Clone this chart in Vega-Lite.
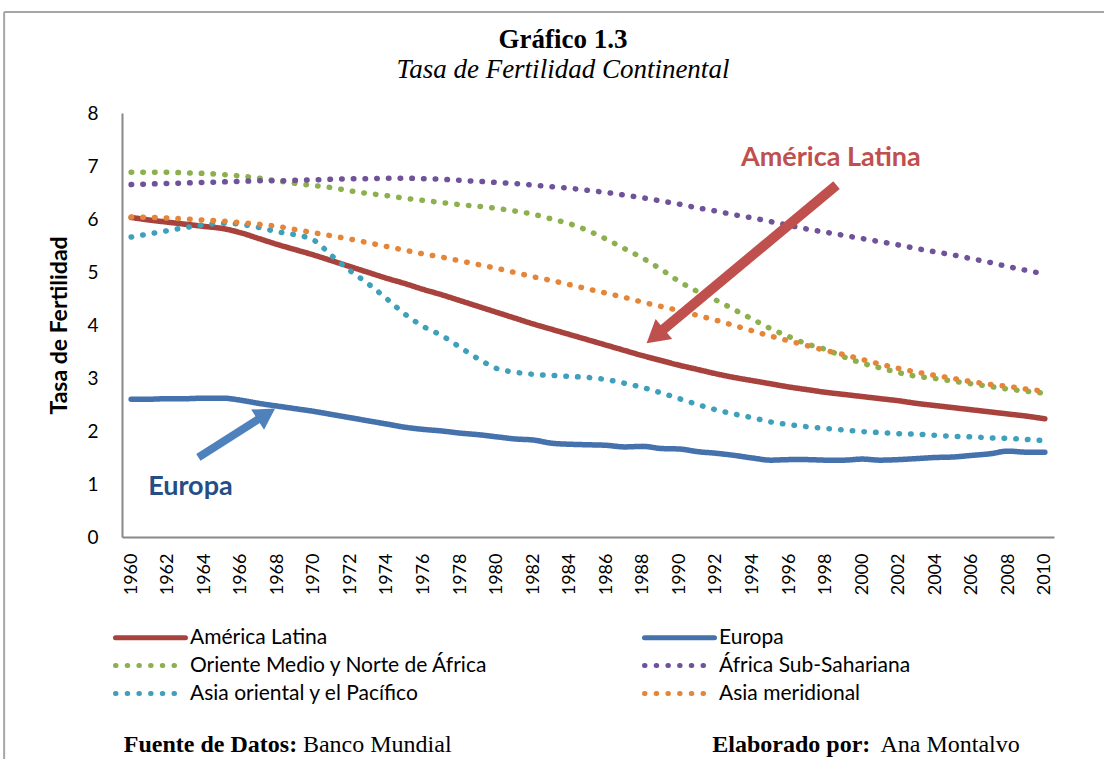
{
  "$schema": "https://vega.github.io/schema/vega-lite/v6.json",
  "width": 932,
  "height": 424,
  "autosize": {"type": "none"},
  "padding": {"left": 122, "top": 113, "right": 50, "bottom": 222},
  "background": "white",
  "config": {
    "view": {"stroke": null},
    "axis": {"grid": false, "ticks": false, "domainColor": "#888888", "domainWidth": 2, "labelFont": "Lato", "labelColor": "black", "titleFont": "Lato", "titleColor": "black"},
    "axisX": {"labelOverlap": false, "labelFontSize": 18, "labelPadding": 16, "labelAngle": -90},
    "axisY": {"labelFontSize": 19, "labelPadding": 24, "titleFontSize": 23, "titleFontWeight": "bold", "titlePadding": 15}
  },
  "title": {
    "text": "Gráfico 1.3",
    "subtitle": "Tasa de Fertilidad Continental",
    "font": "Liberation Serif",
    "fontSize": 27,
    "fontWeight": "bold",
    "color": "black",
    "subtitleFont": "Liberation Serif",
    "subtitleFontSize": 27,
    "subtitleFontStyle": "italic",
    "subtitleColor": "black",
    "subtitlePadding": 3,
    "anchor": "middle",
    "frame": "group",
    "dx": -25,
    "offset": -73
  },
  "datasets": {
    "fert": [
      {"year":1960,"region":"América Latina","rate":6.03},{"year":1961,"region":"América Latina","rate":5.98},{"year":1962,"region":"América Latina","rate":5.94},{"year":1963,"region":"América Latina","rate":5.90},{"year":1964,"region":"América Latina","rate":5.86},{"year":1965,"region":"América Latina","rate":5.82},{"year":1966,"region":"América Latina","rate":5.74},{"year":1967,"region":"América Latina","rate":5.63},{"year":1968,"region":"América Latina","rate":5.52},{"year":1969,"region":"América Latina","rate":5.42},{"year":1970,"region":"América Latina","rate":5.32},{"year":1971,"region":"América Latina","rate":5.21},{"year":1972,"region":"América Latina","rate":5.10},{"year":1973,"region":"América Latina","rate":4.99},{"year":1974,"region":"América Latina","rate":4.88},{"year":1975,"region":"América Latina","rate":4.78},{"year":1976,"region":"América Latina","rate":4.67},{"year":1977,"region":"América Latina","rate":4.57},{"year":1978,"region":"América Latina","rate":4.46},{"year":1979,"region":"América Latina","rate":4.35},{"year":1980,"region":"América Latina","rate":4.24},{"year":1981,"region":"América Latina","rate":4.13},{"year":1982,"region":"América Latina","rate":4.02},{"year":1983,"region":"América Latina","rate":3.92},{"year":1984,"region":"América Latina","rate":3.82},{"year":1985,"region":"América Latina","rate":3.72},{"year":1986,"region":"América Latina","rate":3.62},{"year":1987,"region":"América Latina","rate":3.52},{"year":1988,"region":"América Latina","rate":3.42},{"year":1989,"region":"América Latina","rate":3.33},{"year":1990,"region":"América Latina","rate":3.24},{"year":1991,"region":"América Latina","rate":3.16},{"year":1992,"region":"América Latina","rate":3.08},{"year":1993,"region":"América Latina","rate":3.01},{"year":1994,"region":"América Latina","rate":2.95},{"year":1995,"region":"América Latina","rate":2.89},{"year":1996,"region":"América Latina","rate":2.83},{"year":1997,"region":"América Latina","rate":2.78},{"year":1998,"region":"América Latina","rate":2.73},{"year":1999,"region":"América Latina","rate":2.69},{"year":2000,"region":"América Latina","rate":2.65},{"year":2001,"region":"América Latina","rate":2.61},{"year":2002,"region":"América Latina","rate":2.57},{"year":2003,"region":"América Latina","rate":2.52},{"year":2004,"region":"América Latina","rate":2.48},{"year":2005,"region":"América Latina","rate":2.44},{"year":2006,"region":"América Latina","rate":2.40},{"year":2007,"region":"América Latina","rate":2.36},{"year":2008,"region":"América Latina","rate":2.32},{"year":2009,"region":"América Latina","rate":2.28},{"year":2010,"region":"América Latina","rate":2.23},
      {"year":1960,"region":"Europa","rate":2.60},{"year":1961,"region":"Europa","rate":2.60},{"year":1962,"region":"Europa","rate":2.61},{"year":1963,"region":"Europa","rate":2.61},{"year":1964,"region":"Europa","rate":2.62},{"year":1965,"region":"Europa","rate":2.62},{"year":1966,"region":"Europa","rate":2.58},{"year":1967,"region":"Europa","rate":2.52},{"year":1968,"region":"Europa","rate":2.47},{"year":1969,"region":"Europa","rate":2.42},{"year":1970,"region":"Europa","rate":2.37},{"year":1971,"region":"Europa","rate":2.31},{"year":1972,"region":"Europa","rate":2.25},{"year":1973,"region":"Europa","rate":2.19},{"year":1974,"region":"Europa","rate":2.13},{"year":1975,"region":"Europa","rate":2.07},{"year":1976,"region":"Europa","rate":2.03},{"year":1977,"region":"Europa","rate":2.00},{"year":1978,"region":"Europa","rate":1.96},{"year":1979,"region":"Europa","rate":1.93},{"year":1980,"region":"Europa","rate":1.89},{"year":1981,"region":"Europa","rate":1.85},{"year":1982,"region":"Europa","rate":1.83},{"year":1983,"region":"Europa","rate":1.77},{"year":1984,"region":"Europa","rate":1.75},{"year":1985,"region":"Europa","rate":1.74},{"year":1986,"region":"Europa","rate":1.73},{"year":1987,"region":"Europa","rate":1.70},{"year":1988,"region":"Europa","rate":1.71},{"year":1989,"region":"Europa","rate":1.67},{"year":1990,"region":"Europa","rate":1.66},{"year":1991,"region":"Europa","rate":1.61},{"year":1992,"region":"Europa","rate":1.58},{"year":1993,"region":"Europa","rate":1.54},{"year":1994,"region":"Europa","rate":1.49},{"year":1995,"region":"Europa","rate":1.45},{"year":1996,"region":"Europa","rate":1.46},{"year":1997,"region":"Europa","rate":1.46},{"year":1998,"region":"Europa","rate":1.45},{"year":1999,"region":"Europa","rate":1.45},{"year":2000,"region":"Europa","rate":1.47},{"year":2001,"region":"Europa","rate":1.45},{"year":2002,"region":"Europa","rate":1.46},{"year":2003,"region":"Europa","rate":1.48},{"year":2004,"region":"Europa","rate":1.50},{"year":2005,"region":"Europa","rate":1.51},{"year":2006,"region":"Europa","rate":1.54},{"year":2007,"region":"Europa","rate":1.57},{"year":2008,"region":"Europa","rate":1.62},{"year":2009,"region":"Europa","rate":1.60},{"year":2010,"region":"Europa","rate":1.60},
      {"year":1960,"region":"Oriente Medio y Norte de África","rate":6.88},{"year":1961,"region":"Oriente Medio y Norte de África","rate":6.88},{"year":1962,"region":"Oriente Medio y Norte de África","rate":6.88},{"year":1963,"region":"Oriente Medio y Norte de África","rate":6.87},{"year":1964,"region":"Oriente Medio y Norte de África","rate":6.86},{"year":1965,"region":"Oriente Medio y Norte de África","rate":6.84},{"year":1966,"region":"Oriente Medio y Norte de África","rate":6.81},{"year":1967,"region":"Oriente Medio y Norte de África","rate":6.77},{"year":1968,"region":"Oriente Medio y Norte de África","rate":6.72},{"year":1969,"region":"Oriente Medio y Norte de África","rate":6.67},{"year":1970,"region":"Oriente Medio y Norte de África","rate":6.63},{"year":1971,"region":"Oriente Medio y Norte de África","rate":6.59},{"year":1972,"region":"Oriente Medio y Norte de África","rate":6.53},{"year":1973,"region":"Oriente Medio y Norte de África","rate":6.48},{"year":1974,"region":"Oriente Medio y Norte de África","rate":6.44},{"year":1975,"region":"Oriente Medio y Norte de África","rate":6.39},{"year":1976,"region":"Oriente Medio y Norte de África","rate":6.35},{"year":1977,"region":"Oriente Medio y Norte de África","rate":6.31},{"year":1978,"region":"Oriente Medio y Norte de África","rate":6.27},{"year":1979,"region":"Oriente Medio y Norte de África","rate":6.24},{"year":1980,"region":"Oriente Medio y Norte de África","rate":6.20},{"year":1981,"region":"Oriente Medio y Norte de África","rate":6.15},{"year":1982,"region":"Oriente Medio y Norte de África","rate":6.09},{"year":1983,"region":"Oriente Medio y Norte de África","rate":6.00},{"year":1984,"region":"Oriente Medio y Norte de África","rate":5.91},{"year":1985,"region":"Oriente Medio y Norte de África","rate":5.78},{"year":1986,"region":"Oriente Medio y Norte de África","rate":5.62},{"year":1987,"region":"Oriente Medio y Norte de África","rate":5.44},{"year":1988,"region":"Oriente Medio y Norte de África","rate":5.26},{"year":1989,"region":"Oriente Medio y Norte de África","rate":5.05},{"year":1990,"region":"Oriente Medio y Norte de África","rate":4.82},{"year":1991,"region":"Oriente Medio y Norte de África","rate":4.63},{"year":1992,"region":"Oriente Medio y Norte de África","rate":4.47},{"year":1993,"region":"Oriente Medio y Norte de África","rate":4.29},{"year":1994,"region":"Oriente Medio y Norte de África","rate":4.11},{"year":1995,"region":"Oriente Medio y Norte de África","rate":3.93},{"year":1996,"region":"Oriente Medio y Norte de África","rate":3.78},{"year":1997,"region":"Oriente Medio y Norte de África","rate":3.64},{"year":1998,"region":"Oriente Medio y Norte de África","rate":3.54},{"year":1999,"region":"Oriente Medio y Norte de África","rate":3.40},{"year":2000,"region":"Oriente Medio y Norte de África","rate":3.28},{"year":2001,"region":"Oriente Medio y Norte de África","rate":3.19},{"year":2002,"region":"Oriente Medio y Norte de África","rate":3.10},{"year":2003,"region":"Oriente Medio y Norte de África","rate":3.03},{"year":2004,"region":"Oriente Medio y Norte de África","rate":2.99},{"year":2005,"region":"Oriente Medio y Norte de África","rate":2.94},{"year":2006,"region":"Oriente Medio y Norte de África","rate":2.89},{"year":2007,"region":"Oriente Medio y Norte de África","rate":2.84},{"year":2008,"region":"Oriente Medio y Norte de África","rate":2.79},{"year":2009,"region":"Oriente Medio y Norte de África","rate":2.75},{"year":2010,"region":"Oriente Medio y Norte de África","rate":2.71},
      {"year":1960,"region":"África Sub-Sahariana","rate":6.65},{"year":1961,"region":"África Sub-Sahariana","rate":6.66},{"year":1962,"region":"África Sub-Sahariana","rate":6.67},{"year":1963,"region":"África Sub-Sahariana","rate":6.68},{"year":1964,"region":"África Sub-Sahariana","rate":6.69},{"year":1965,"region":"África Sub-Sahariana","rate":6.70},{"year":1966,"region":"África Sub-Sahariana","rate":6.71},{"year":1967,"region":"África Sub-Sahariana","rate":6.72},{"year":1968,"region":"África Sub-Sahariana","rate":6.72},{"year":1969,"region":"África Sub-Sahariana","rate":6.73},{"year":1970,"region":"África Sub-Sahariana","rate":6.74},{"year":1971,"region":"África Sub-Sahariana","rate":6.75},{"year":1972,"region":"África Sub-Sahariana","rate":6.76},{"year":1973,"region":"África Sub-Sahariana","rate":6.76},{"year":1974,"region":"África Sub-Sahariana","rate":6.77},{"year":1975,"region":"África Sub-Sahariana","rate":6.77},{"year":1976,"region":"África Sub-Sahariana","rate":6.76},{"year":1977,"region":"África Sub-Sahariana","rate":6.75},{"year":1978,"region":"África Sub-Sahariana","rate":6.73},{"year":1979,"region":"África Sub-Sahariana","rate":6.71},{"year":1980,"region":"África Sub-Sahariana","rate":6.69},{"year":1981,"region":"África Sub-Sahariana","rate":6.67},{"year":1982,"region":"África Sub-Sahariana","rate":6.64},{"year":1983,"region":"África Sub-Sahariana","rate":6.61},{"year":1984,"region":"África Sub-Sahariana","rate":6.58},{"year":1985,"region":"África Sub-Sahariana","rate":6.54},{"year":1986,"region":"África Sub-Sahariana","rate":6.50},{"year":1987,"region":"África Sub-Sahariana","rate":6.45},{"year":1988,"region":"África Sub-Sahariana","rate":6.40},{"year":1989,"region":"África Sub-Sahariana","rate":6.34},{"year":1990,"region":"África Sub-Sahariana","rate":6.28},{"year":1991,"region":"África Sub-Sahariana","rate":6.21},{"year":1992,"region":"África Sub-Sahariana","rate":6.15},{"year":1993,"region":"África Sub-Sahariana","rate":6.08},{"year":1994,"region":"África Sub-Sahariana","rate":6.02},{"year":1995,"region":"África Sub-Sahariana","rate":5.95},{"year":1996,"region":"África Sub-Sahariana","rate":5.88},{"year":1997,"region":"África Sub-Sahariana","rate":5.81},{"year":1998,"region":"África Sub-Sahariana","rate":5.75},{"year":1999,"region":"África Sub-Sahariana","rate":5.69},{"year":2000,"region":"África Sub-Sahariana","rate":5.63},{"year":2001,"region":"África Sub-Sahariana","rate":5.57},{"year":2002,"region":"África Sub-Sahariana","rate":5.51},{"year":2003,"region":"África Sub-Sahariana","rate":5.44},{"year":2004,"region":"África Sub-Sahariana","rate":5.38},{"year":2005,"region":"África Sub-Sahariana","rate":5.32},{"year":2006,"region":"África Sub-Sahariana","rate":5.25},{"year":2007,"region":"África Sub-Sahariana","rate":5.18},{"year":2008,"region":"África Sub-Sahariana","rate":5.10},{"year":2009,"region":"África Sub-Sahariana","rate":5.03},{"year":2010,"region":"África Sub-Sahariana","rate":4.96},
      {"year":1960,"region":"Asia oriental y el Pacífico","rate":5.66},{"year":1961,"region":"Asia oriental y el Pacífico","rate":5.72},{"year":1962,"region":"Asia oriental y el Pacífico","rate":5.78},{"year":1963,"region":"Asia oriental y el Pacífico","rate":5.84},{"year":1964,"region":"Asia oriental y el Pacífico","rate":5.89},{"year":1965,"region":"Asia oriental y el Pacífico","rate":5.92},{"year":1966,"region":"Asia oriental y el Pacífico","rate":5.90},{"year":1967,"region":"Asia oriental y el Pacífico","rate":5.84},{"year":1968,"region":"Asia oriental y el Pacífico","rate":5.76},{"year":1969,"region":"Asia oriental y el Pacífico","rate":5.70},{"year":1970,"region":"Asia oriental y el Pacífico","rate":5.60},{"year":1971,"region":"Asia oriental y el Pacífico","rate":5.30},{"year":1972,"region":"Asia oriental y el Pacífico","rate":5.02},{"year":1973,"region":"Asia oriental y el Pacífico","rate":4.77},{"year":1974,"region":"Asia oriental y el Pacífico","rate":4.49},{"year":1975,"region":"Asia oriental y el Pacífico","rate":4.20},{"year":1976,"region":"Asia oriental y el Pacífico","rate":3.97},{"year":1977,"region":"Asia oriental y el Pacífico","rate":3.80},{"year":1978,"region":"Asia oriental y el Pacífico","rate":3.58},{"year":1979,"region":"Asia oriental y el Pacífico","rate":3.36},{"year":1980,"region":"Asia oriental y el Pacífico","rate":3.18},{"year":1981,"region":"Asia oriental y el Pacífico","rate":3.11},{"year":1982,"region":"Asia oriental y el Pacífico","rate":3.07},{"year":1983,"region":"Asia oriental y el Pacífico","rate":3.05},{"year":1984,"region":"Asia oriental y el Pacífico","rate":3.03},{"year":1985,"region":"Asia oriental y el Pacífico","rate":3.01},{"year":1986,"region":"Asia oriental y el Pacífico","rate":2.97},{"year":1987,"region":"Asia oriental y el Pacífico","rate":2.90},{"year":1988,"region":"Asia oriental y el Pacífico","rate":2.82},{"year":1989,"region":"Asia oriental y el Pacífico","rate":2.72},{"year":1990,"region":"Asia oriental y el Pacífico","rate":2.61},{"year":1991,"region":"Asia oriental y el Pacífico","rate":2.50},{"year":1992,"region":"Asia oriental y el Pacífico","rate":2.40},{"year":1993,"region":"Asia oriental y el Pacífico","rate":2.32},{"year":1994,"region":"Asia oriental y el Pacífico","rate":2.25},{"year":1995,"region":"Asia oriental y el Pacífico","rate":2.17},{"year":1996,"region":"Asia oriental y el Pacífico","rate":2.12},{"year":1997,"region":"Asia oriental y el Pacífico","rate":2.08},{"year":1998,"region":"Asia oriental y el Pacífico","rate":2.05},{"year":1999,"region":"Asia oriental y el Pacífico","rate":2.02},{"year":2000,"region":"Asia oriental y el Pacífico","rate":1.99},{"year":2001,"region":"Asia oriental y el Pacífico","rate":1.97},{"year":2002,"region":"Asia oriental y el Pacífico","rate":1.95},{"year":2003,"region":"Asia oriental y el Pacífico","rate":1.94},{"year":2004,"region":"Asia oriental y el Pacífico","rate":1.92},{"year":2005,"region":"Asia oriental y el Pacífico","rate":1.90},{"year":2006,"region":"Asia oriental y el Pacífico","rate":1.89},{"year":2007,"region":"Asia oriental y el Pacífico","rate":1.87},{"year":2008,"region":"Asia oriental y el Pacífico","rate":1.86},{"year":2009,"region":"Asia oriental y el Pacífico","rate":1.84},{"year":2010,"region":"Asia oriental y el Pacífico","rate":1.82},
      {"year":1960,"region":"Asia meridional","rate":6.04},{"year":1961,"region":"Asia meridional","rate":6.03},{"year":1962,"region":"Asia meridional","rate":6.02},{"year":1963,"region":"Asia meridional","rate":6.00},{"year":1964,"region":"Asia meridional","rate":5.98},{"year":1965,"region":"Asia meridional","rate":5.96},{"year":1966,"region":"Asia meridional","rate":5.93},{"year":1967,"region":"Asia meridional","rate":5.90},{"year":1968,"region":"Asia meridional","rate":5.86},{"year":1969,"region":"Asia meridional","rate":5.80},{"year":1970,"region":"Asia meridional","rate":5.74},{"year":1971,"region":"Asia meridional","rate":5.68},{"year":1972,"region":"Asia meridional","rate":5.62},{"year":1973,"region":"Asia meridional","rate":5.55},{"year":1974,"region":"Asia meridional","rate":5.48},{"year":1975,"region":"Asia meridional","rate":5.41},{"year":1976,"region":"Asia meridional","rate":5.34},{"year":1977,"region":"Asia meridional","rate":5.28},{"year":1978,"region":"Asia meridional","rate":5.21},{"year":1979,"region":"Asia meridional","rate":5.14},{"year":1980,"region":"Asia meridional","rate":5.07},{"year":1981,"region":"Asia meridional","rate":4.99},{"year":1982,"region":"Asia meridional","rate":4.91},{"year":1983,"region":"Asia meridional","rate":4.84},{"year":1984,"region":"Asia meridional","rate":4.76},{"year":1985,"region":"Asia meridional","rate":4.68},{"year":1986,"region":"Asia meridional","rate":4.60},{"year":1987,"region":"Asia meridional","rate":4.52},{"year":1988,"region":"Asia meridional","rate":4.43},{"year":1989,"region":"Asia meridional","rate":4.35},{"year":1990,"region":"Asia meridional","rate":4.27},{"year":1991,"region":"Asia meridional","rate":4.18},{"year":1992,"region":"Asia meridional","rate":4.09},{"year":1993,"region":"Asia meridional","rate":3.99},{"year":1994,"region":"Asia meridional","rate":3.89},{"year":1995,"region":"Asia meridional","rate":3.79},{"year":1996,"region":"Asia meridional","rate":3.70},{"year":1997,"region":"Asia meridional","rate":3.61},{"year":1998,"region":"Asia meridional","rate":3.52},{"year":1999,"region":"Asia meridional","rate":3.44},{"year":2000,"region":"Asia meridional","rate":3.35},{"year":2001,"region":"Asia meridional","rate":3.26},{"year":2002,"region":"Asia meridional","rate":3.18},{"year":2003,"region":"Asia meridional","rate":3.11},{"year":2004,"region":"Asia meridional","rate":3.05},{"year":2005,"region":"Asia meridional","rate":2.99},{"year":2006,"region":"Asia meridional","rate":2.93},{"year":2007,"region":"Asia meridional","rate":2.88},{"year":2008,"region":"Asia meridional","rate":2.84},{"year":2009,"region":"Asia meridional","rate":2.79},{"year":2010,"region":"Asia meridional","rate":2.75}
    ]
  },
  "encoding": {
    "x": {
      "field": "year", "type": "quantitative",
      "scale": {"domain": [1959.5, 2010.5], "nice": false, "zero": false},
      "axis": {"title": null, "values": [1960,1962,1964,1966,1968,1970,1972,1974,1976,1978,1980,1982,1984,1986,1988,1990,1992,1994,1996,1998,2000,2002,2004,2006,2008,2010], "format": "d", "labelAngle": -90, "labelFontSize": 18, "labelPadding": 16, "labelOverlap": false}
    },
    "y": {
      "field": "rate", "type": "quantitative",
      "scale": {"domain": [0, 8], "nice": false},
      "axis": {"title": "Tasa de Fertilidad", "values": [0,1,2,3,4,5,6,7,8], "labelFontSize": 19, "labelPadding": 24, "titleFontSize": 23, "titleFontWeight": "bold", "titlePadding": 15}
    }
  },
  "layer": [
    {
      "data": {"name": "fert"},
      "mark": {"type": "line", "strokeWidth": 5.5, "strokeCap": "round", "interpolate": "monotone"},
      "encoding": {
        "color": {
          "field": "region", "type": "nominal",
          "scale": {
            "domain": ["América Latina", "Oriente Medio y Norte de África", "Asia oriental y el Pacífico", "Europa", "África Sub-Sahariana", "Asia meridional"],
            "range": ["#A8423D", "#8DB04F", "#3FA0BB", "#4571AC", "#6F5299", "#E58538"]
          },
          "legend": {
            "title": null, "orient": "none", "legendX": 16, "legendY": 512, "columns": 2, "columnPadding": 145, "rowPadding": 5,
            "symbolType": "M-3.5,0L3.5,0", "symbolSize": 400, "symbolStrokeWidth": 5, "labelOffset": 27, "padding": 0,
            "labelFont": "Lato", "labelFontSize": 21, "labelColor": "black", "labelLimit": 400,
            "encode": {"symbols": {"update": {"strokeCap": {"value": "round"}}}}
          }
        },
        "strokeDash": {
          "field": "region", "type": "nominal",
          "scale": {
            "domain": ["América Latina", "Oriente Medio y Norte de África", "Asia oriental y el Pacífico", "Europa", "África Sub-Sahariana", "Asia meridional"],
            "range": [[1, 0], [0.5, 11.2], [0.5, 11.2], [1, 0], [0.5, 11.2], [0.5, 11.2]]
          },
          "legend": {
            "title": null, "orient": "none", "legendX": 16, "legendY": 512, "columns": 2, "columnPadding": 145, "rowPadding": 5,
            "symbolType": "M-3.5,0L3.5,0", "symbolSize": 400, "symbolStrokeWidth": 5, "labelOffset": 27, "padding": 0,
            "labelFont": "Lato", "labelFontSize": 21, "labelColor": "black", "labelLimit": 400,
            "encode": {"symbols": {"update": {"strokeCap": {"value": "round"}}}}
          }
        }
      }
    },
    {
      "data": {"values": [
        {"year": 1953.05, "rate": 9.906, "year2": 2013.3, "rate2": 9.906},
        {"year": 1953.05, "rate": 9.906, "year2": 1953.05, "rate2": -4.3}
      ]},
      "mark": {"type": "rule", "color": "#A6A6A6", "strokeWidth": 2},
      "encoding": {
        "x2": {"field": "year2"},
        "y2": {"field": "rate2"}
      }
    },
    {
      "data": {"values": [{"year": 1998.6, "rate": 6.64, "year2": 1988.68, "rate2": 3.79}]},
      "mark": {"type": "rule", "color": "#C0504D", "strokeWidth": 10},
      "encoding": {
        "x2": {"field": "year2"},
        "y2": {"field": "rate2"}
      }
    },
    {
      "data": {"values": [{"year": 1988.68, "rate": 3.79}]},
      "mark": {"type": "point", "shape": "triangle-up", "filled": true, "size": 676, "angle": 230.2, "color": "#C0504D", "opacity": 1}
    },
    {
      "data": {"values": [{"year": 1963.68, "rate": 1.504, "year2": 1967.4, "rate2": 2.32}]},
      "mark": {"type": "rule", "color": "#4F81BD", "strokeWidth": 8},
      "encoding": {
        "x2": {"field": "year2"},
        "y2": {"field": "rate2"}
      }
    },
    {
      "data": {"values": [{"year": 1967.4, "rate": 2.32}]},
      "mark": {"type": "point", "shape": "triangle-up", "filled": true, "size": 576, "angle": 57.5, "color": "#4F81BD", "opacity": 1}
    },
    {
      "data": {"values": [{"year": 1993.37, "rate": 7.16, "label": "América Latina"}]},
      "mark": {"type": "text", "align": "left", "baseline": "middle", "font": "Lato", "fontSize": 27, "fontWeight": "bold", "color": "#C0504D"},
      "encoding": {"text": {"field": "label"}}
    },
    {
      "data": {"values": [{"year": 1960.93, "rate": 0.94, "label": "Europa"}]},
      "mark": {"type": "text", "align": "left", "baseline": "middle", "font": "Lato", "fontSize": 27, "fontWeight": "bold", "color": "#254E86"},
      "encoding": {"text": {"field": "label"}}
    },
    {
      "data": {"values": [
        {"year": 1959.6, "rate": -3.92, "label": "Fuente de Datos:"},
        {"year": 1991.8, "rate": -3.92, "label": "Elaborado por:"}
      ]},
      "mark": {"type": "text", "align": "left", "baseline": "middle", "font": "Liberation Serif", "fontSize": 24, "fontWeight": "bold", "color": "black"},
      "encoding": {"text": {"field": "label"}}
    },
    {
      "data": {"values": [
        {"year": 1969.4, "rate": -3.92, "label": "Banco Mundial"},
        {"year": 2001.0, "rate": -3.92, "label": "Ana Montalvo"}
      ]},
      "mark": {"type": "text", "align": "left", "baseline": "middle", "font": "Liberation Serif", "fontSize": 24, "color": "black"},
      "encoding": {"text": {"field": "label"}}
    }
  ]
}
